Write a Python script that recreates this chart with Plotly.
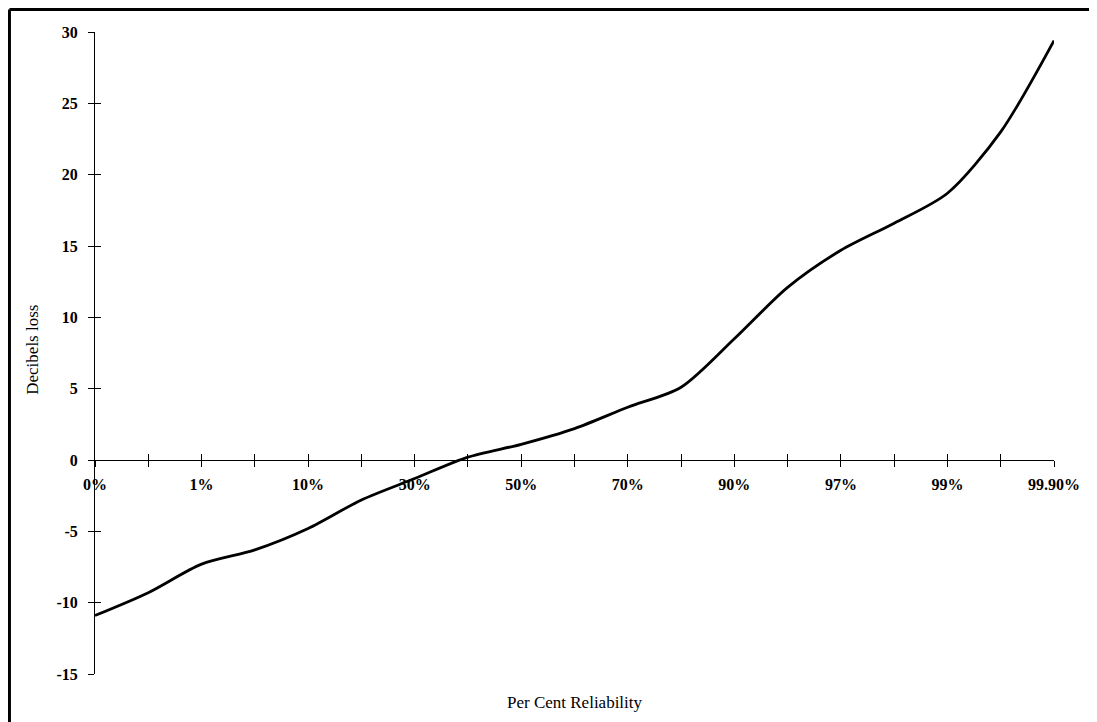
import plotly.graph_objects as go

# categories along the reliability axis (only every other one is labelled)
tick_labels = [
    "0%", "", "1%", "", "10%", "", "30%", "", "50%", "",
    "70%", "", "90%", "", "97%", "", "99%", "", "99.90%",
]
# decibels loss at each category
loss_db = [
    -10.9, -9.3, -7.3, -6.3, -4.8, -2.8, -1.3, 0.2, 1.1, 2.2,
    3.7, 5.1, 8.5, 12.1, 14.7, 16.6, 18.7, 23.0, 29.4,
]
y_ticks = [-15, -10, -5, 0, 5, 10, 15, 20, 25, 30]
y_tick_text = ["-15", "-10", "-5", "0", "5", "10", "15", "20", "25", "30"]

FONT = "Liberation Serif, Times New Roman, serif"
Y_MIN, Y_MAX = y_ticks[0], y_ticks[-1]
positions = list(range(len(tick_labels)))
x_range = [positions[0], positions[-1]]
# x axis crosses the value axis at 0
axis_pos = (0 - Y_MIN) / (Y_MAX - Y_MIN)

fig = go.Figure()
fig.add_trace(
    go.Scatter(
        x=positions,
        y=loss_db,
        mode="lines",
        line=dict(color="black", width=2.8, shape="spline", smoothing=0.8),
        hoverinfo="skip",
        showlegend=False,
    )
)
# empty trace so the overlay axes (inner half of the crossing ticks) get drawn
fig.add_trace(go.Scatter(x=[], y=[], xaxis="x2", yaxis="y2", showlegend=False))

common_x = dict(
    range=x_range,
    tickmode="array",
    tickvals=positions,
    showgrid=False,
    zeroline=False,
    anchor="free",
    position=axis_pos,
    tickcolor="black",
    ticklen=6,
    tickwidth=1,
)
common_y = dict(
    range=[Y_MIN, Y_MAX],
    tickmode="array",
    tickvals=y_ticks,
    showgrid=False,
    zeroline=False,
    tickcolor="black",
    ticklen=6,
    tickwidth=1,
)

fig.update_layout(
    width=1089,
    height=714,
    margin=dict(l=87, r=43, t=24, b=48),
    plot_bgcolor="white",
    paper_bgcolor="white",
    font=dict(family=FONT, color="black"),
    xaxis=dict(
        **common_x,
        ticktext=tick_labels,
        ticks="outside",
        showline=True,
        linecolor="black",
        linewidth=1,
        tickfont=dict(family=FONT, size=16, color="black", weight="bold"),
        ticklabelstandoff=4,
    ),
    xaxis2=dict(
        **common_x,
        overlaying="x",
        ticks="inside",
        showticklabels=False,
        showline=False,
    ),
    yaxis=dict(
        **common_y,
        ticktext=y_tick_text,
        ticks="outside",
        showline=True,
        linecolor="black",
        linewidth=1,
        tickfont=dict(family=FONT, size=16, color="black", weight="bold"),
        ticklabelstandoff=7,
    ),
    yaxis2=dict(
        **common_y,
        overlaying="y",
        anchor="x2",
        ticks="inside",
        showticklabels=False,
        showline=False,
    ),
    annotations=[
        dict(
            text="Per Cent Reliability",
            xref="paper", yref="paper", x=0.5, y=-0.045,
            showarrow=False, yanchor="middle",
            font=dict(family=FONT, size=17, color="black"),
        ),
        dict(
            text="Decibels loss",
            xref="paper", yref="paper", x=-0.0647, y=0.505,
            showarrow=False, textangle=-90, xanchor="center",
            font=dict(family=FONT, size=17, color="black"),
        ),
    ],
    shapes=[
        # scanned page frame: left and top edges
        dict(type="line", xref="paper", yref="paper",
             x0=-0.0892, x1=1.05, y0=1.035, y1=1.035,
             line=dict(color="black", width=3)),
        dict(type="line", xref="paper", yref="paper",
             x0=-0.0892, x1=-0.0892, y0=1.035, y1=-0.08,
             line=dict(color="black", width=3)),
    ],
)

fig.write_html("out.html")
